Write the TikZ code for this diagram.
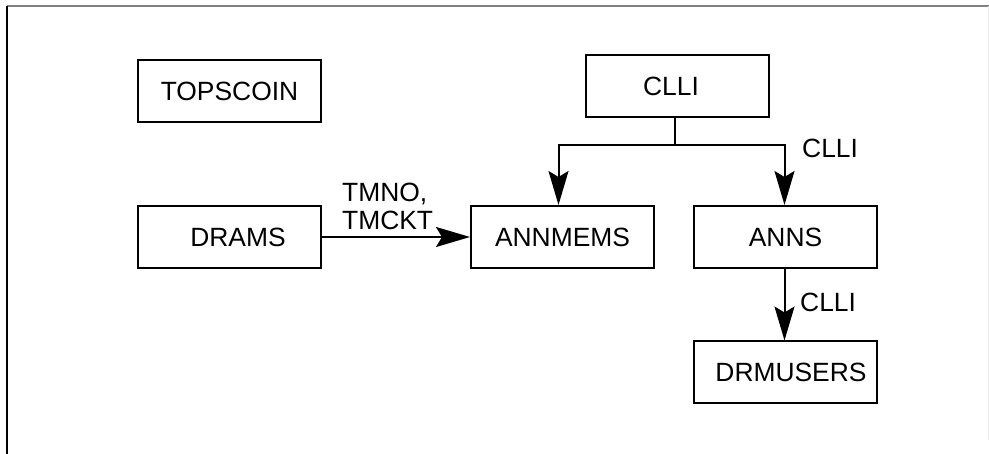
\documentclass[tikz,border=0pt]{standalone}
\usepackage{fontspec}
\setmainfont{Liberation Sans}
\usetikzlibrary{arrows.meta}
\begin{document}
\begin{tikzpicture}[x=1pt,y=-1pt,
  every node/.style={font=\fontsize{26.4}{28.5}\selectfont, inner sep=0pt, text height=19pt, text depth=0pt},
  box/.style={draw, line width=2pt, minimum width=183pt, minimum height=62pt},
  lbl/.style={anchor=west},
  conn/.style={line width=2pt},
  arr/.style={conn, -{Stealth[length=34pt, width=20pt, inset=6pt]}}]
\useasboundingbox (0,0) rectangle (989,454);
% frame
\draw[line width=1.8pt, black!50] (7,6) coordinate (ftl) -- (989,6) coordinate (ftr);
\draw[line width=1.8pt] (ftl) -- (7,454) coordinate (fbl);
\draw[line width=1pt, black!8] (988,6) coordinate (frt) -- (988,440) coordinate (frb);
% boxes
\node[box] (TOPSCOIN) at (229.5,91) {TOPSCOIN};
\node[box] (DRAMS) at (229.5,237) {\hspace*{17pt}DRAMS};
\node[box] (ANNMEMS) at (562.5,237) {ANNMEMS};
\node[box] (CLLI) at (677.5,86) {CLLI\hspace*{13pt}};
\node[box] (ANNS) at (785.5,237) {ANNS};
\node[box] (DRMUSERS) at (785.5,372.5) {\hspace*{11pt}DRMUSERS};
% labels
\node[anchor=base west] (t1) at (342,202) {TMNO,};
\node[anchor=base west] (t2) at (342,230) {TMCKT};
\node[lbl] (c1) at (802,148) {CLLI};
\node[lbl] (c2) at (800,302) {CLLI};
% connectors
\draw[arr] (DRAMS.east) -- (ANNMEMS.west);
\draw[conn] ([xshift=-3pt]CLLI.south) -- ++(0,27) coordinate (br);
\draw[arr] (br) -| ([xshift=-4pt]ANNMEMS.north);
\draw[arr] (br) -| ([xshift=-1pt]ANNS.north);
\draw[arr] ([xshift=-1pt]ANNS.south) -- ([xshift=-1pt]DRMUSERS.north);
\end{tikzpicture}
\end{document}
